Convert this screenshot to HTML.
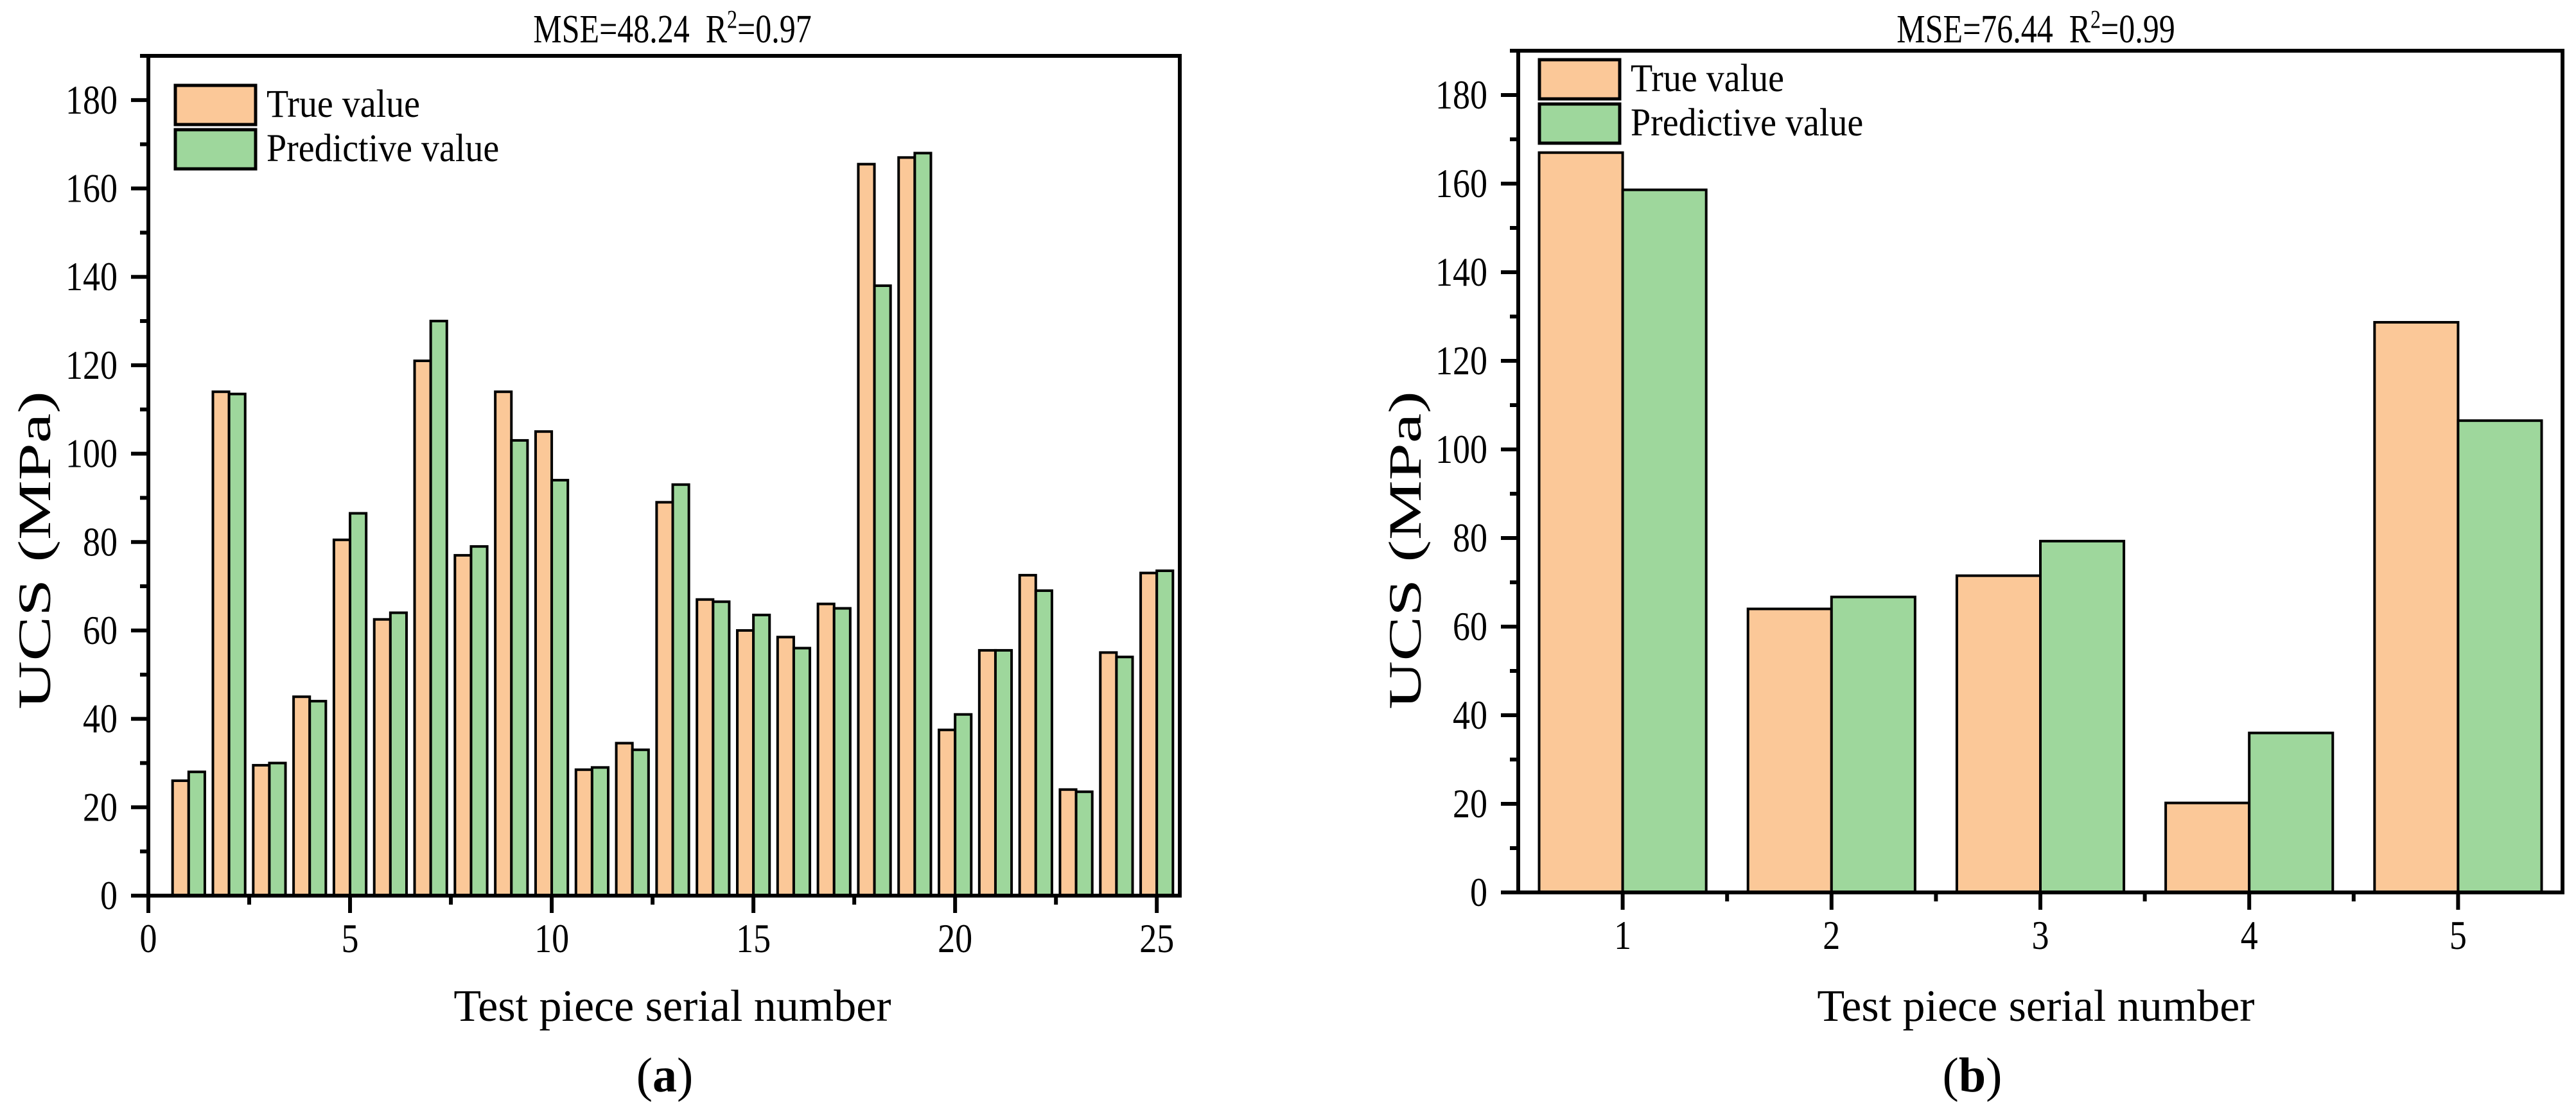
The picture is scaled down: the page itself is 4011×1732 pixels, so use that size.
<!DOCTYPE html>
<html><head><meta charset="utf-8">
<style>
html,body{margin:0;padding:0;background:#fff;}
svg{display:block;font-family:"Liberation Serif",serif;}
</style></head>
<body>
<svg id="fig" width="4011" height="1732" viewBox="0 0 4011 1732" xmlns="http://www.w3.org/2000/svg"></svg>
<script>
const catsA = [1,2,3,4,5,6,7,8,9,10,11,12,13,14,15,16,17,18,19,20,21,22,23,24,25];
const trueA = [26,114,29.5,45,80.5,62.5,121,77,114,105,28.5,34.5,89,67,60,58.5,66,165.5,167,37.5,55.5,72.5,24,55,73];
const predA = [28,113.5,30,44,86.5,64,130,79,103,94,29,33,93,66.5,63.5,56,65,138,168,41,55.5,69,23.5,54,73.5];
const xTicksA = [0,5,10,15,20,25];
const catsB = [1,2,3,4,5];
const trueB = [167,64,71.5,20.2,128.7];
const predB = [158.6,66.7,79.3,36,106.5];
const xTicksB = [1,2,3,4,5];
const yTicks = [0,20,40,60,80,100,120,140,160,180];

const NS = "http://www.w3.org/2000/svg";
const svg = document.getElementById('fig');
function el(tag, attrs, parent, text){
  const e = document.createElementNS(NS, tag);
  for (const k in attrs) e.setAttribute(k, attrs[k]);
  if (text !== undefined) e.textContent = text;
  (parent || svg).appendChild(e);
  return e;
}
const ORANGE = "#fbc898", GREEN = "#9ed79c";

function panel(cfg){
  const g = el('g', {});
  
  
  const L = cfg.left, R = cfg.right, T = cfg.top, B = cfg.bottom;
  const sx = v => L + (v - cfg.xmin) / (cfg.xmax - cfg.xmin) * (R - L);
  const sy = v => B - v / 190 * (B - T);
  for (let i = 0; i < cfg.cats.length; i++){
    const c = cfg.cats[i];
    const b1 = el('rect', {x: sx(c - 0.4), y: sy(cfg.tv[i]), width: sx(c) - sx(c - 0.4), height: sy(0) - sy(cfg.tv[i]), fill: ORANGE, stroke: '#000', 'stroke-width': cfg.bw}, g);
    
    
    const b2 = el('rect', {x: sx(c), y: sy(cfg.pv[i]), width: sx(c + 0.4) - sx(c), height: sy(0) - sy(cfg.pv[i]), fill: GREEN, stroke: '#000', 'stroke-width': cfg.bw}, g);
    
    
  }
  const fr = el('rect', {x: L, y: T, width: R - L, height: B - T, fill: 'none', stroke: '#000', 'stroke-width': 6}, g);
  
  
  yTicks.forEach(v => {
    el('line', {x1: L - 27, x2: L, y1: sy(v), y2: sy(v), stroke: '#000', 'stroke-width': 6}, g);
    const t = el('text', {x: 0, y: 0, 'font-size': 54, 'text-anchor': 'end', transform: 'translate(' + (L - 48) + ',' + (sy(v) + 21) + ') scale(1,1.18)'}, g, v);
    
    
    el('line', {x1: L - 13, x2: L, y1: sy(v + 10), y2: sy(v + 10), stroke: '#000', 'stroke-width': 6}, g);
  });
  cfg.xt.forEach(v => {
    el('line', {x1: sx(v), x2: sx(v), y1: B, y2: B + 27, stroke: '#000', 'stroke-width': 6}, g);
    const t = el('text', {x: 0, y: 0, 'font-size': 54, 'text-anchor': 'middle', transform: 'translate(' + sx(v) + ',' + (B + 88) + ') scale(1,1.18)'}, g, v);
    
    
  });
  cfg.xminor.forEach(v => {
    el('line', {x1: sx(v), x2: sx(v), y1: B, y2: B + 14, stroke: '#000', 'stroke-width': 6}, g);
  });
  const tt = el('text', {x: 0, y: 0, 'font-size': 50, 'text-anchor': 'middle', transform: 'translate(' + cfg.titleX + ',66) scale(1,1.25)'}, g);
  
  
  tt.innerHTML = cfg.mse + '&#160;&#160;R<tspan dy="-18" font-size="32">2</tspan><tspan dy="18">' + cfg.r2 + '</tspan>';
  const xt = el('text', {x: cfg.titleX, y: 1590, 'font-size': 70, 'text-anchor': 'middle'}, g, 'Test piece serial number');
  
  
  const yt = el('text', {x: 0, y: 0, 'font-size': 72, 'text-anchor': 'middle', transform: 'translate(' + cfg.ytx + ',857) rotate(-90) scale(1.45,1)'}, g, 'UCS (MPa)');
  
  
  const pl = el('text', {x: cfg.labX, y: 1700, 'font-size': 76, 'text-anchor': 'middle'}, g);
  
  
  pl.innerHTML = '(<tspan font-weight="bold">' + cfg.lab + '</tspan>)';
  const lg = el('g', {}, g);
  
  
  [[ORANGE, 'True value', 0], [GREEN, 'Predictive value', 1]].forEach(d => {
    const y0 = cfg.legY + d[2] * 69;
    el('rect', {x: cfg.legX, y: y0, width: 125, height: 61, fill: d[0], stroke: '#000', 'stroke-width': 5}, lg);
    const t = el('text', {x: 0, y: 0, 'font-size': 56, transform: 'translate(' + (cfg.legX + 142) + ',' + (y0 + 49) + ') scale(1,1.1)'}, lg, d[1]);
    
    
  });
}

panel({name: 'panel-a', left: 231, right: 1837, top: 87, bottom: 1395, xmin: 0, xmax: 25.57,
  cats: catsA, tv: trueA, pv: predA, xt: xTicksA, xminor: [2.5,7.5,12.5,17.5,22.5], bw: 4,
  titleX: 1047, mse: 'MSE=48.24', r2: '=0.97', ytx: 78, labX: 1035, lab: 'a', legX: 273, legY: 133});
panel({name: 'panel-b', left: 2364, right: 3990, top: 79, bottom: 1390, xmin: 0.5, xmax: 5.5,
  cats: catsB, tv: trueB, pv: predB, xt: xTicksB, xminor: [1.5,2.5,3.5,4.5], bw: 4,
  titleX: 3170, mse: 'MSE=76.44', r2: '=0.99', ytx: 2212, labX: 3071, lab: 'b', legX: 2397, legY: 93});
</script>
</body></html>
